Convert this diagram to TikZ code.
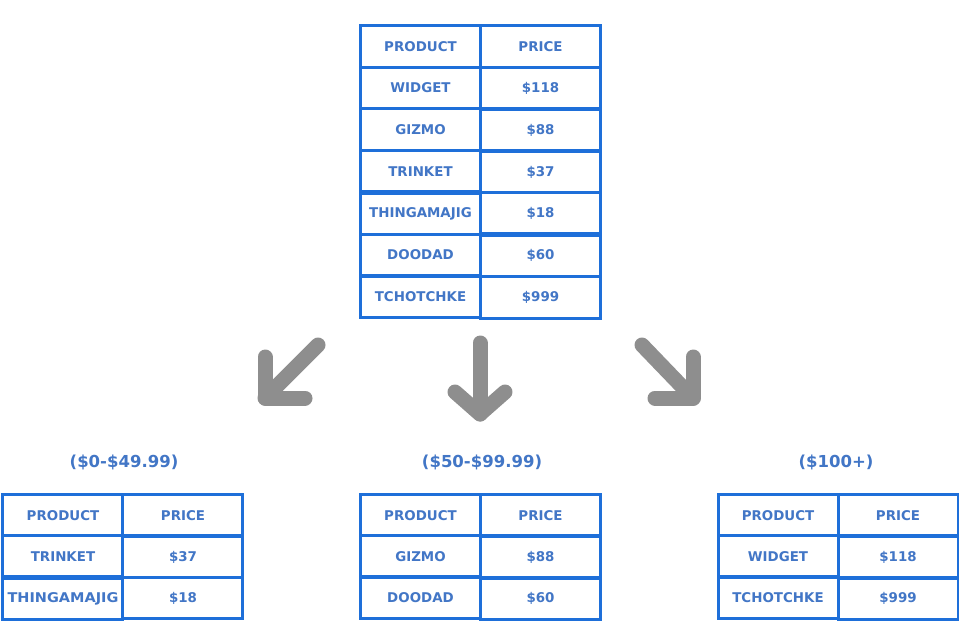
\documentclass[tikz,border=0pt]{standalone}
\usepackage{fontspec}
\setmainfont{DejaVu Sans}
\usetikzlibrary{matrix}
\definecolor{gridblue}{HTML}{1E6FD9}
\definecolor{textblue}{HTML}{4276C6}
\definecolor{arrowgray}{HTML}{8E8E8E}
\tikzset{
  cell/.style={draw=gridblue, line width=3pt, outer sep=0pt, inner sep=0pt,
    minimum width=120pt, minimum height=41pt, text=textblue,
    font=\bfseries\fontsize{13.4}{15}\selectfont},
  pricetable/.style={matrix of nodes, nodes={cell}, column sep=-3pt, row sep=-3pt,
    inner sep=0pt, outer sep=0pt},
  rangelabel/.style={text=textblue, font=\bfseries\fontsize{16.5}{19}\selectfont},
  bigarrow/.style={draw=arrowgray, line width=15pt, line cap=round, line join=round}
}
\begin{document}
\begin{tikzpicture}[x=1pt,y=-1pt]
\useasboundingbox (0,0) rectangle (959,621);
\fill[white] (0,0) rectangle (959,621);

% full product list
\matrix (all) [pricetable, nodes={minimum height=41.1pt}] at (480.5,172) {
  PRODUCT & PRICE \\
  WIDGET & \$118 \\
  GIZMO & \$88 \\
  TRINKET & \$37 \\
  THINGAMAJIG & \$18 \\
  DOODAD & \$60 \\
  TCHOTCHKE & \$999 \\
};

% split arrows
\draw[bigarrow] (318,345) -- (265,398);
\draw[bigarrow] (265,357) -- (265,398) -- (305,398);
\draw[bigarrow] (480,343) -- (480,414);
\draw[bigarrow] (455,392) -- (480,414) -- (505,392);
\draw[bigarrow] (642,345) -- (693,398);
\draw[bigarrow] (693,357) -- (693,398) -- (655,398);

% price ranges
\node[rangelabel] (lowlbl) at (124,462) {(\$0-\$49.99)};
\node[rangelabel] (midlbl) at (482,462) {(\$50-\$99.99)};
\node[rangelabel] (highlbl) at (836,462) {(\$100+)};

\matrix (low) [pricetable] at (123,557) {
  PRODUCT & PRICE \\
  TRINKET & \$37 \\
  \scalebox{1.08}[1]{THINGAMAJIG} & \$18 \\
};
\matrix (mid) [pricetable] at (480.5,557) {
  PRODUCT & PRICE \\
  GIZMO & \$88 \\
  DOODAD & \$60 \\
};
\matrix (high) [pricetable] at (838,557) {
  PRODUCT & PRICE \\
  WIDGET & \$118 \\
  TCHOTCHKE & \$999 \\
};
\end{tikzpicture}
\end{document}
